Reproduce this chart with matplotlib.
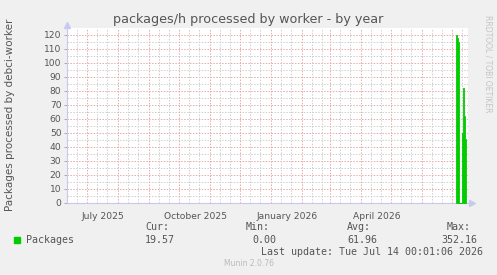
import datetime as dt
import matplotlib
matplotlib.use("Agg")
import matplotlib.pyplot as plt

# daily values near the end of the year view (everything earlier has no data)
days = ["2026-07-05", "2026-07-06", "2026-07-07", "2026-07-08", "2026-07-09",
        "2026-07-10", "2026-07-11", "2026-07-12", "2026-07-13", "2026-07-14"]
packages = [120, 118, 115, 0, 0, 0, 50, 82, 62, 46]

month_labels = ["July 2025", "October 2025", "January 2026", "April 2026"]
label_dates = ["2025-07-17", "2025-10-17", "2026-01-17", "2026-04-17"]

legend_name = "Packages"
stats_heads = ["Cur:", "Min:", "Avg:", "Max:"]
stats_vals = ["19.57", "0.00", "61.96", "352.16"]
last_update = "Last update: Tue Jul 14 00:01:06 2026"

end = dt.datetime(2026, 7, 17, 0, 0)
start = end - dt.timedelta(days=401)

W, H = 497, 275
fig = plt.figure(figsize=(W / 100, H / 100), dpi=100)
fig.patch.set_facecolor("#f0f0f0")

def fx(px):
    return px / W

def fy(py):
    return 1 - py / H

ax = fig.add_axes([fx(67), fy(203), fx(468 - 67), fy(28) - fy(203)])
ax.set_facecolor("white")

x = [dt.datetime.strptime(d, "%Y-%m-%d") for d in days]
x.append(x[-1] + dt.timedelta(days=1))
y = packages + [packages[-1]]
# thin edge in the same colour so the 3-4 px wide bars don't look washed out
ax.fill_between(x, y, step="post", facecolor="#00cc00", edgecolor="#00cc00",
                linewidth=0.6, zorder=3)

ax.set_xlim(start, end)
ax.set_ylim(0, 125)

gray = "#555555"
red_grid = "#e8a8a8"
min_grid = "#cfcfcf"
axis_col = "#c8c8f0"

# grid lines
for v in range(5, 125, 5):
    c = red_grid if v % 10 == 0 else min_grid
    ax.axhline(v, color=c, lw=0.7, ls=(0, (1.5, 1.5)), zorder=0)

d = dt.datetime(start.year, start.month, 1)
while d < end:
    for day in (1, 11, 21):
        t = d.replace(day=day)
        if start < t < end:
            c = red_grid if day == 1 else min_grid
            ax.axvline(t, color=c, lw=0.7, ls=(0, (1.5, 1.5)), zorder=0)
    d = (d + dt.timedelta(days=32)).replace(day=1)

ax.set_yticks(range(0, 121, 10))
ax.tick_params(axis="y", length=2, width=0.7, color="#aaaaaa", labelsize=6.6,
               labelcolor=gray, pad=2)
ax.set_xticks([])
for lab, ld in zip(month_labels, label_dates):
    ax.text(dt.datetime.strptime(ld, "%Y-%m-%d"), -0.05, lab,
            transform=ax.get_xaxis_transform(), ha="center", va="top",
            fontsize=6.6, color=gray)

for s in ["top", "right"]:
    ax.spines[s].set_visible(False)
ax.spines["left"].set_color(axis_col)
ax.spines["bottom"].set_color(axis_col)
ax.spines["left"].set_linewidth(0.8)
ax.spines["bottom"].set_linewidth(0.8)
# little arrows at the end of the axes
ax.plot([0], [1.02], marker="^", ms=4, color=axis_col, transform=ax.transAxes,
        clip_on=False)
ax.plot([1.01], [0], marker=">", ms=4, color=axis_col, transform=ax.transAxes,
        clip_on=False)

fig.text(0.5, fy(19), "packages/h processed by worker - by year",
         ha="center", va="center", fontsize=9.2, color=gray)
fig.text(fx(10), fy(115), "Packages processed by debci-worker", rotation=90,
         ha="center", va="center", fontsize=7.5, color=gray)
fig.text(fx(488), fy(15), "RRDTOOL / TOBI OETIKER", rotation=-90,
         ha="center", va="top", fontsize=5.5, color="#c4c4c4")

# legend block
mono = "DejaVu Sans Mono"
fig.patches.append(plt.Rectangle((fx(14), fy(243)), fx(6), fy(237) - fy(243),
                                 transform=fig.transFigure, color="#00cc00"))
fig.text(fx(26), fy(240), legend_name, ha="left", va="center", family=mono,
         fontsize=7.2, color=gray)
head_x = [145, 246, 347, 447]
val_x = [145, 252, 347, 441]
for hx, hd in zip(head_x, stats_heads):
    fig.text(fx(hx), fy(227), hd, ha="left", va="center", family=mono,
             fontsize=7.2, color=gray)
for vx, vl in zip(val_x, stats_vals):
    fig.text(fx(vx), fy(240), vl, ha="left", va="center", family=mono,
             fontsize=7.2, color=gray)
fig.text(fx(483), fy(252), last_update, ha="right", va="center", family=mono,
         fontsize=7.2, color=gray)
fig.text(0.5, fy(264), "Munin 2.0.76", ha="center", va="center",
         fontsize=5.5, color="#bbbbbb")

fig.savefig("out.png", dpi=100, facecolor=fig.get_facecolor())
